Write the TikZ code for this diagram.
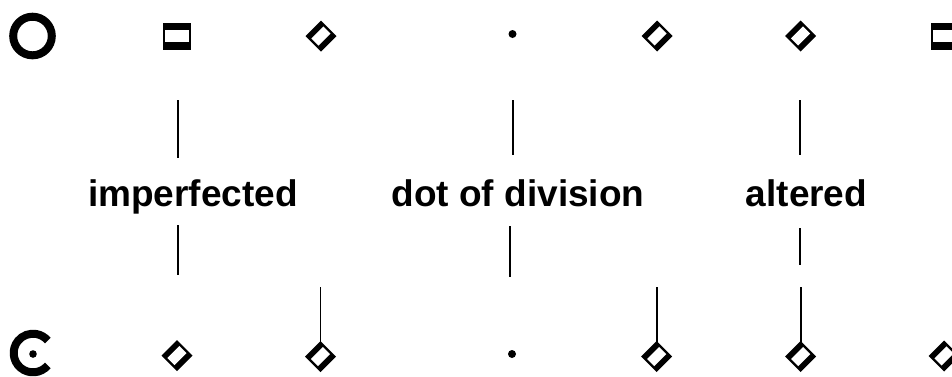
\documentclass[tikz,border=0pt]{standalone}
\usepackage{fontspec}
\setmainfont{Liberation Sans}
\begin{document}
\begin{tikzpicture}[x=0.75pt,y=-0.75pt,
  vline/.style={line width=1.25pt},
  lbl/.style={font=\bfseries\fontsize{27.75}{30}\selectfont, inner sep=0pt, anchor=base},
  brevis/.pic={\fill (-14,-13.5) rectangle (14,13.5);
               \fill[white] (-11.6,-5.6) rectangle (11.8,5.6);},
  semib/.pic={\fill (0,-15.5) -- (15.5,0) -- (0,15.5) -- (-15.5,0) -- cycle;
              \fill[white] (9.6,-2.4) -- (2.4,-9.6) -- (-9.6,2.4) -- (-2.4,9.6) -- cycle;},
  mdot/.pic={\fill (0,0) circle[radius=4];}
]
\clip (0,0) rectangle (952,376);
% top row
\coordinate (O) at (32.5,36);
\draw[line width=6pt] (O) circle[radius=19.3];
\coordinate (t1) at (177,36);  \pic at (t1) {brevis};
\coordinate (t2) at (321,36);  \pic at (t2) {semib};
\coordinate (t3) at (512.5,34); \pic at (t3) {mdot};
\coordinate (t4) at (657,36);  \pic at (t4) {semib};
\coordinate (t5) at (800.5,36); \pic at (t5) {semib};
\coordinate (t6) at (945,36);  \pic at (t6) {brevis};
% bottom row
\coordinate (C) at (33,353);
\draw[line width=6pt] ([shift={(40:19.3)}]C) arc[start angle=40,end angle=320,radius=19.3];
\fill (33,354) circle[radius=3.8];
\coordinate (b1) at (177,355.5); \pic at (b1) {semib};
\coordinate (b2) at (320.5,356.5); \pic at (b2) {semib};
\coordinate (b3) at (512,354); \pic at (b3) {mdot};
\coordinate (b4) at (656.7,356.5); \pic at (b4) {semib};
\coordinate (b5) at (800.7,356.5); \pic at (b5) {semib};
\coordinate (b6) at (944,356); \pic at (b6) {semib};
% labels
\node[lbl] (l1) at (193,206) {imperfected};
\node[lbl] (l2) at (518,206) {dot of division};
\node[lbl] (l3) at (806.5,206) {altered};
% connector lines
\coordinate (u1a) at (178,100); \coordinate (u1b) at (178,158);
\coordinate (d1a) at (178,225); \coordinate (d1b) at (178,275);
\coordinate (u2a) at (513,100); \coordinate (u2b) at (513,155);
\coordinate (d2a) at (510,226); \coordinate (d2b) at (510,277);
\coordinate (u3a) at (800,100); \coordinate (u3b) at (800,155);
\coordinate (d3a) at (800,228); \coordinate (d3b) at (800,265);
\draw[vline] (u1a) -- (u1b);
\draw[vline] (d1a) -- (d1b);
\draw[vline] (u2a) -- (u2b);
\draw[vline] (d2a) -- (d2b);
\draw[vline] (u3a) -- (u3b);
\draw[vline] (d3a) -- (d3b);
% stems
\coordinate (s2) at (320.5,287);
\coordinate (s4) at (656.7,287);
\coordinate (s5) at (800.7,287);
\draw[vline] (s2) -- ([yshift=11pt]b2);
\draw[vline] (s4) -- ([yshift=11pt]b4);
\draw[vline] (s5) -- ([yshift=11pt]b5);
\end{tikzpicture}
\end{document}
